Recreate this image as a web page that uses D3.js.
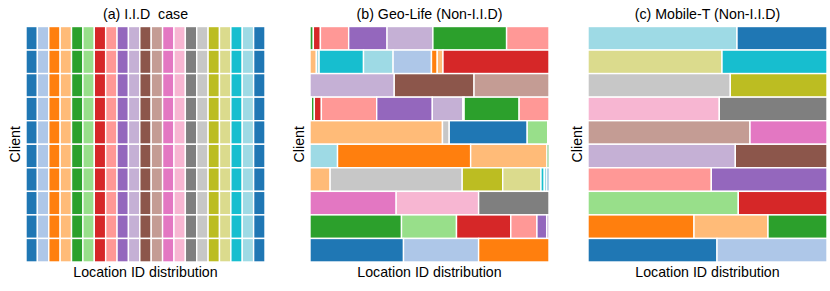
<!doctype html>
<html>
<head>
<meta charset="utf-8">
<script src="https://d3js.org/d3.v7.min.js"></script>
<style>
  body { margin: 0; background: #fff; }
  text { font-family: "Liberation Sans", Arial, sans-serif; fill: #000; }
</style>
</head>
<body>
<div id="chart"></div>
<script>
// tab20 palette, one colour per location id (mod 20)
var tab20 = ["#1f77b4","#aec7e8","#ff7f0e","#ffbb78","#2ca02c","#98df8a","#d62728","#ff9896",
             "#9467bd","#c5b0d5","#8c564b","#c49c94","#e377c2","#f7b6d2","#7f7f7f","#c7c7c7",
             "#bcbd22","#dbdb8d","#17becf","#9edae5"];

var clients = ["0","1","2","3","4","5","6","7","8","9"];
var titles = ["(a) I.I.D  case", "(b) Geo-Life (Non-I.I.D)", "(c) Mobile-T (Non-I.I.D)"];

// (a) every client holds the same share of all 21 locations
var iidLocs   = [0,1,2,3,4,5,6,7,8,9,10,11,12,13,14,15,16,17,18,19,20];
var iidShares = [1,1,1,1,1,1,1,1,1,1,1,1,1,1,1,1,1,1,1,1,1];

// (b) Geo-Life, client rows top to bottom: location colour index and share
var geoLocs = [
  [4,6,7,8,9,4,7],
  [3,19,18,19,1,2,3,6],
  [9,10,11],
  [3,4,6,7,8,9,5,4,7],
  [3,15,0,5,7],
  [19,2,3,4],
  [3,15,16,17,18,19,0],
  [12,13,14],
  [4,5,6,7,8,9],
  [0,1,2]
];
var geoShares = [
  [3.3,7,28,38,45.4,73,42],
  [6.3,2.7,44,29.3,38,5.7,5.7,105],
  [83.7,79.3,74.5],
  [1.3,3,7,55,55.3,30.3,1.3,54.7,29.7],
  [131.3,6.7,77.3,20.3,1.3],
  [27.3,132,75.7,2],
  [20,131.3,40.3,38,3.3,2.7,2],
  [85.7,82,70],
  [91,54.7,54,26,9.7,2.3],
  [93,74.7,70]
];

// (c) Mobile-T
var mobLocs = [
  [19,0],[17,18],[15,16],[13,14],[11,12],[9,10],[7,8],[5,6],[2,3,4],[0,1]
];
var mobShares = [
  [149,90],[134,105],[142.3,96.7],[131.3,107.7],[162,77],
  [147.3,91.7],[123.3,115.7],[150.3,88.7],[106,74,59],[129,110]
];

var W = 830, H = 291;
var panelLeft = [26, 310, 588];
var panelW = 239;
var plotTop = 26.5, plotBottom = 262;

var svg = d3.select("#chart").append("svg")
  .attr("width", W).attr("height", H);

var y = d3.scaleBand().domain(clients).range([plotTop, plotBottom]).padding(0);

function rowsFrom(locs, shares) {
  return clients.map(function(c, i) {
    var tot = d3.sum(shares[i]), acc = 0;
    return shares[i].map(function(s, j) {
      var seg = { client: c, loc: locs[i][j], x0: acc / tot, x1: (acc + s) / tot };
      acc += s;
      return seg;
    });
  });
}

var panels = [
  rowsFrom(clients.map(function() { return iidLocs; }), clients.map(function() { return iidShares; })),
  rowsFrom(geoLocs, geoShares),
  rowsFrom(mobLocs, mobShares)
];

panels.forEach(function(rows, p) {
  var x = d3.scaleLinear().domain([0, 1]).range([panelLeft[p], panelLeft[p] + panelW]);
  var g = svg.append("g");

  g.selectAll("g.row")
    .data(rows)
    .enter().append("g")
    .attr("class", "row")
    .selectAll("rect")
    .data(function(d) { return d; })
    .enter().append("rect")
    .attr("x", function(d) { return x(d.x0); })
    .attr("width", function(d) { return x(d.x1) - x(d.x0); })
    .attr("y", function(d) { return y(d.client); })
    .attr("height", y.bandwidth())
    .style("fill", function(d) { return tab20[d.loc % 20]; })
    .style("stroke", "#fff")
    .style("stroke-width", 1.4);

  var cx = panelLeft[p] + panelW / 2;
  g.append("text")
    .attr("x", cx).attr("y", 19)
    .style("text-anchor", "middle")
    .style("font-size", "14.2px")
    .style("white-space", "pre")
    .text(titles[p]);

  g.append("text")
    .attr("x", cx).attr("y", 277)
    .style("text-anchor", "middle")
    .style("font-size", "14.2px")
    .text("Location ID distribution");

  g.append("text")
    .attr("transform", "translate(" + (panelLeft[p] - 6.5) + "," + ((plotTop + plotBottom) / 2) + ") rotate(-90)")
    .style("text-anchor", "middle")
    .style("font-size", "14.2px")
    .text("Client");
});
</script>
</body>
</html>
